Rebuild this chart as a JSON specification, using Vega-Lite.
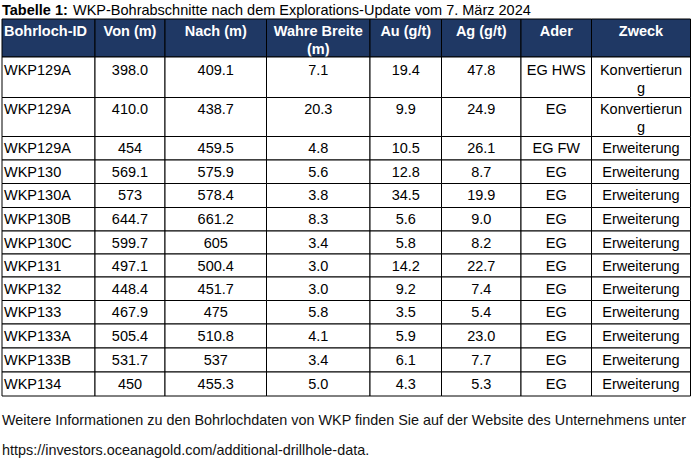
{
  "$schema": "https://vega.github.io/schema/vega-lite/v6.json",
  "width": 699,
  "height": 466,
  "autosize": {"type": "fit", "contains": "padding"},
  "padding": 0,
  "background": "white",
  "config": {"view": {"stroke": null}, "text": {"font": "Liberation Sans", "fontSize": 14.5}},
  "datasets": {
    "table": [
      {"nr": 1, "id": "WKP129A", "von": "398.0", "nach": "409.1", "breite": "7.1", "au": "19.4", "ag": "47.8", "ader": "EG HWS", "zweck": "Konvertierun\ng"},
      {"nr": 2, "id": "WKP129A", "von": "410.0", "nach": "438.7", "breite": "20.3", "au": "9.9", "ag": "24.9", "ader": "EG", "zweck": "Konvertierun\ng"},
      {"nr": 3, "id": "WKP129A", "von": "454", "nach": "459.5", "breite": "4.8", "au": "10.5", "ag": "26.1", "ader": "EG FW", "zweck": "Erweiterung"},
      {"nr": 4, "id": "WKP130", "von": "569.1", "nach": "575.9", "breite": "5.6", "au": "12.8", "ag": "8.7", "ader": "EG", "zweck": "Erweiterung"},
      {"nr": 5, "id": "WKP130A", "von": "573", "nach": "578.4", "breite": "3.8", "au": "34.5", "ag": "19.9", "ader": "EG", "zweck": "Erweiterung"},
      {"nr": 6, "id": "WKP130B", "von": "644.7", "nach": "661.2", "breite": "8.3", "au": "5.6", "ag": "9.0", "ader": "EG", "zweck": "Erweiterung"},
      {"nr": 7, "id": "WKP130C", "von": "599.7", "nach": "605", "breite": "3.4", "au": "5.8", "ag": "8.2", "ader": "EG", "zweck": "Erweiterung"},
      {"nr": 8, "id": "WKP131", "von": "497.1", "nach": "500.4", "breite": "3.0", "au": "14.2", "ag": "22.7", "ader": "EG", "zweck": "Erweiterung"},
      {"nr": 9, "id": "WKP132", "von": "448.4", "nach": "451.7", "breite": "3.0", "au": "9.2", "ag": "7.4", "ader": "EG", "zweck": "Erweiterung"},
      {"nr": 10, "id": "WKP133", "von": "467.9", "nach": "475", "breite": "5.8", "au": "3.5", "ag": "5.4", "ader": "EG", "zweck": "Erweiterung"},
      {"nr": 11, "id": "WKP133A", "von": "505.4", "nach": "510.8", "breite": "4.1", "au": "5.9", "ag": "23.0", "ader": "EG", "zweck": "Erweiterung"},
      {"nr": 12, "id": "WKP133B", "von": "531.7", "nach": "537", "breite": "3.4", "au": "6.1", "ag": "7.7", "ader": "EG", "zweck": "Erweiterung"},
      {"nr": 13, "id": "WKP134", "von": "450", "nach": "455.3", "breite": "5.0", "au": "4.3", "ag": "5.3", "ader": "EG", "zweck": "Erweiterung"}
    ],
    "header": [
      {"nr": 0, "id": "Bohrloch-ID", "von": "Von (m)", "nach": "Nach (m)", "breite": "Wahre Breite\n(m)", "au": "Au (g/t)", "ag": "Ag (g/t)", "ader": "Ader", "zweck": "Zweck"}
    ],
    "cols": [
      {"key": "id", "x0": 2, "x1": 95, "tx": 4},
      {"key": "von", "x0": 95, "x1": 165, "tx": 130},
      {"key": "nach", "x0": 165, "x1": 266.5, "tx": 215.75},
      {"key": "breite", "x0": 266.5, "x1": 370, "tx": 318.25},
      {"key": "au", "x0": 370, "x1": 441.5, "tx": 405.75},
      {"key": "ag", "x0": 441.5, "x1": 521, "tx": 481.25},
      {"key": "ader", "x0": 521, "x1": 591.5, "tx": 556.25},
      {"key": "zweck", "x0": 591.5, "x1": 690.5, "tx": 641}
    ],
    "rows": [
      {"nr": 0, "y0": 19, "y1": 57, "ty": 24.5},
      {"nr": 1, "y0": 57, "y1": 97.5, "ty": 63.5},
      {"nr": 2, "y0": 97.5, "y1": 136.5, "ty": 103},
      {"nr": 3, "y0": 136.5, "y1": 160, "ty": 142},
      {"nr": 4, "y0": 160, "y1": 183.5, "ty": 165.5},
      {"nr": 5, "y0": 183.5, "y1": 207.5, "ty": 189},
      {"nr": 6, "y0": 207.5, "y1": 231, "ty": 213},
      {"nr": 7, "y0": 231, "y1": 254, "ty": 236.5},
      {"nr": 8, "y0": 254, "y1": 277, "ty": 259.5},
      {"nr": 9, "y0": 277, "y1": 300.5, "ty": 282.5},
      {"nr": 10, "y0": 300.5, "y1": 324, "ty": 306},
      {"nr": 11, "y0": 324, "y1": 348, "ty": 329.5},
      {"nr": 12, "y0": 348, "y1": 372, "ty": 353.5},
      {"nr": 13, "y0": 372, "y1": 396, "ty": 377.5}
    ],
    "notes": [
      {"part": "title-bold", "text": "Tabelle 1:", "x": 2, "y": 4},
      {"part": "title", "text": "WKP-Bohrabschnitte nach dem Explorations-Update vom 7. März 2024", "x": 73, "y": 4},
      {"part": "note", "text": "Weitere Informationen zu den Bohrlochdaten von WKP finden Sie auf der Website des Unternehmens unter", "x": 2, "y": 414},
      {"part": "note", "text": "https://investors.oceanagold.com/additional-drillhole-data.", "x": 2, "y": 444}
    ]
  },
  "layer": [
    {
      "data": {"name": "header"},
      "transform": [
        {"fold": ["id", "von", "nach", "breite", "au", "ag", "ader", "zweck"]},
        {"lookup": "key", "from": {"data": {"name": "cols"}, "key": "key", "fields": ["x0", "x1", "tx"]}},
        {"lookup": "nr", "from": {"data": {"name": "rows"}, "key": "nr", "fields": ["y0", "y1", "ty"]}}
      ],
      "layer": [
        {
          "mark": {"type": "rect", "fill": "#1F3864", "stroke": "#000000", "strokeWidth": 1},
          "encoding": {
            "x": {"field": "x0", "type": "quantitative", "scale": {"domain": [0, 699], "nice": false, "zero": false}, "axis": null},
            "x2": {"field": "x1"},
            "y": {"field": "y0", "type": "quantitative", "scale": {"domain": [0, 466], "nice": false, "zero": false, "reverse": true}, "axis": null},
            "y2": {"field": "y1"}
          }
        },
        {
          "transform": [{"filter": "datum.key === 'id'"}],
          "mark": {"type": "text", "align": "left", "baseline": "top", "fontWeight": "bold", "color": "white", "lineBreak": "\n", "lineHeight": 18},
          "encoding": {
            "x": {"field": "tx", "type": "quantitative", "scale": {"domain": [0, 699], "nice": false, "zero": false}, "axis": null},
            "y": {"field": "ty", "type": "quantitative", "scale": {"domain": [0, 466], "nice": false, "zero": false, "reverse": true}, "axis": null},
            "text": {"field": "value"}
          }
        },
        {
          "transform": [{"filter": "datum.key !== 'id'"}],
          "mark": {"type": "text", "align": "center", "baseline": "top", "fontWeight": "bold", "color": "white", "lineBreak": "\n", "lineHeight": 18},
          "encoding": {
            "x": {"field": "tx", "type": "quantitative", "scale": {"domain": [0, 699], "nice": false, "zero": false}, "axis": null},
            "y": {"field": "ty", "type": "quantitative", "scale": {"domain": [0, 466], "nice": false, "zero": false, "reverse": true}, "axis": null},
            "text": {"field": "value"}
          }
        }
      ]
    },
    {
      "data": {"name": "table"},
      "transform": [
        {"fold": ["id", "von", "nach", "breite", "au", "ag", "ader", "zweck"]},
        {"lookup": "key", "from": {"data": {"name": "cols"}, "key": "key", "fields": ["x0", "x1", "tx"]}},
        {"lookup": "nr", "from": {"data": {"name": "rows"}, "key": "nr", "fields": ["y0", "y1", "ty"]}}
      ],
      "layer": [
        {
          "mark": {"type": "rect", "fill": "white", "stroke": "#000000", "strokeWidth": 1},
          "encoding": {
            "x": {"field": "x0", "type": "quantitative", "scale": {"domain": [0, 699], "nice": false, "zero": false}, "axis": null},
            "x2": {"field": "x1"},
            "y": {"field": "y0", "type": "quantitative", "scale": {"domain": [0, 466], "nice": false, "zero": false, "reverse": true}, "axis": null},
            "y2": {"field": "y1"}
          }
        },
        {
          "transform": [{"filter": "datum.key === 'id'"}],
          "mark": {"type": "text", "align": "left", "baseline": "top", "color": "black", "lineBreak": "\n", "lineHeight": 18},
          "encoding": {
            "x": {"field": "tx", "type": "quantitative", "scale": {"domain": [0, 699], "nice": false, "zero": false}, "axis": null},
            "y": {"field": "ty", "type": "quantitative", "scale": {"domain": [0, 466], "nice": false, "zero": false, "reverse": true}, "axis": null},
            "text": {"field": "value"}
          }
        },
        {
          "transform": [{"filter": "datum.key !== 'id'"}],
          "mark": {"type": "text", "align": "center", "baseline": "top", "color": "black", "lineBreak": "\n", "lineHeight": 18},
          "encoding": {
            "x": {"field": "tx", "type": "quantitative", "scale": {"domain": [0, 699], "nice": false, "zero": false}, "axis": null},
            "y": {"field": "ty", "type": "quantitative", "scale": {"domain": [0, 466], "nice": false, "zero": false, "reverse": true}, "axis": null},
            "text": {"field": "value"}
          }
        }
      ]
    },
    {
      "data": {"name": "notes"},
      "layer": [
        {
          "transform": [{"filter": "datum.part === 'title-bold'"}],
          "mark": {"type": "text", "align": "left", "baseline": "top", "fontWeight": "bold", "color": "black"},
          "encoding": {
            "x": {"field": "x", "type": "quantitative", "scale": {"domain": [0, 699], "nice": false, "zero": false}, "axis": null},
            "y": {"field": "y", "type": "quantitative", "scale": {"domain": [0, 466], "nice": false, "zero": false, "reverse": true}, "axis": null},
            "text": {"field": "text"}
          }
        },
        {
          "transform": [{"filter": "datum.part === 'title'"}],
          "mark": {"type": "text", "align": "left", "baseline": "top", "color": "black"},
          "encoding": {
            "x": {"field": "x", "type": "quantitative", "scale": {"domain": [0, 699], "nice": false, "zero": false}, "axis": null},
            "y": {"field": "y", "type": "quantitative", "scale": {"domain": [0, 466], "nice": false, "zero": false, "reverse": true}, "axis": null},
            "text": {"field": "text"}
          }
        },
        {
          "transform": [{"filter": "datum.part === 'note'"}],
          "mark": {"type": "text", "align": "left", "baseline": "top", "color": "#111111", "fontSize": 14.4},
          "encoding": {
            "x": {"field": "x", "type": "quantitative", "scale": {"domain": [0, 699], "nice": false, "zero": false}, "axis": null},
            "y": {"field": "y", "type": "quantitative", "scale": {"domain": [0, 466], "nice": false, "zero": false, "reverse": true}, "axis": null},
            "text": {"field": "text"}
          }
        }
      ]
    }
  ]
}
